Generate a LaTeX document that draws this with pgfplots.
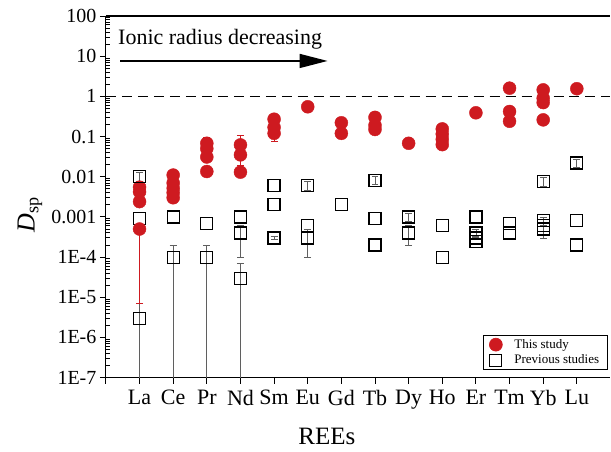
\documentclass[border=0pt]{standalone}
\usepackage{fontspec}
\setmainfont{Liberation Serif}
\usepackage{pgfplots}
\pgfplotsset{compat=1.18}
\usetikzlibrary{arrows.meta}
\definecolor{studyred}{RGB}{206,26,32}
\definecolor{errgray}{RGB}{95,95,95}

\begin{document}
\begin{tikzpicture}
\begin{axis}[
  name=ax,
  at={(0,0)}, anchor=south west,
  scale only axis, width=505pt, height=362pt,
  ymode=log, ymin=1e-7, ymax=100,
  xmin=0, xmax=15,
  axis x line*=bottom, axis y line*=left,
  axis line style={-, line width=1.1pt},
  xtick={0,...,14},
  xticklabels={,La,Ce,Pr,Nd,Sm,Eu,Gd,Tb,Dy,Ho,Er,Tm,Yb,Lu},
  ytick={1e-7,1e-6,1e-5,1e-4,1e-3,1e-2,1e-1,1,10,100},
  yticklabels={1E-7,1E-6,1E-5,1E-4,0.001,0.01,0.1,1,10,100},
  minor ytick={2e-7,3e-7,4e-7,5e-7,6e-7,7e-7,8e-7,9e-7,
    2e-6,3e-6,4e-6,5e-6,6e-6,7e-6,8e-6,9e-6,
    2e-5,3e-5,4e-5,5e-5,6e-5,7e-5,8e-5,9e-5,
    2e-4,3e-4,4e-4,5e-4,6e-4,7e-4,8e-4,9e-4,
    2e-3,3e-3,4e-3,5e-3,6e-3,7e-3,8e-3,9e-3,
    2e-2,3e-2,4e-2,5e-2,6e-2,7e-2,8e-2,9e-2,
    2e-1,3e-1,4e-1,5e-1,6e-1,7e-1,8e-1,9e-1,
    2,3,4,5,6,7,8,9,20,30,40,50,60,70,80,90},
  tick align=outside,
  major tick length=6pt, minor tick length=4pt,
  minor y tick style={xshift=4pt},
  tick style={black, line width=0.9pt},
  x tick label style={font=\fontsize{22}{22}\selectfont, yshift=-3pt},
  y tick label style={font=\fontsize{20}{20}\selectfont},
  xlabel={REEs},
  ylabel={\textit{D}\textsubscript{sp}},
  xlabel style={at={(rel axis cs:0.438,0)}, anchor=base, yshift=-67pt,
    font=\fontsize{25}{25}\selectfont},
  ylabel style={at={(rel axis cs:0,0.45)}, anchor=center, yshift=76pt,
    font=\fontsize{26}{26}\selectfont},
  legend style={at={(rel axis cs:0.994,0.022)}, anchor=south east,
    font=\fontsize{13}{14}\selectfont, draw=black, line width=0.6pt,
    row sep=1pt, inner xsep=6pt, inner ysep=2pt},
  legend cell align=left,
]

% this study
\addplot[only marks, mark=*, mark size=6.5pt, color=studyred,
  mark options={fill=studyred, draw=studyred}]
coordinates {
  (1,0.0055)(1,0.0042)(1,0.0024)
  (2,0.011)(2,0.007)(2,0.0052)(2,0.004)(2,0.003)
  (3,0.05)(3,0.031)(3,0.0135)
  (4,0.035)(4,0.013)
  (5,0.27)(5,0.17)
  (6,0.55)
  (7,0.22)(7,0.12)
  (8,0.3)(8,0.19)(8,0.15)
  (9,0.068)
  (10,0.155)(10,0.115)(10,0.085)(10,0.063)
  (11,0.39)
  (12,1.6)(12,0.42)(12,0.24)
  (13,1.45)(13,0.9)(13,0.7)(13,0.26)
  (14,1.55)
};
\addlegendentry{\hspace{10pt}This study}

% previous studies
\addplot[only marks, mark=square, mark size=6pt, color=black,
  mark options={line width=1.2pt}]
coordinates {
  (1,0.0009)
  (2,0.001)
  (3,0.0007)
  (4,0.001)
  (5,0.006)(5,0.002)
  (6,0.0006)
  (7,0.002)
  (8,0.0009)(8,0.0002)
  (10,0.0006)(10,0.0001)
  (11,0.001)(11,0.00025)
  (12,0.0007)(12,0.0004)
  (13,0.0006)
  (14,0.0008)(14,0.0002)
};
\addlegendentry{\hspace{10pt}Previous studies}

\addplot[only marks, mark=square, mark size=6pt, color=black,
  mark options={line width=1.2pt}, forget plot,
  error bars/.cd, y dir=both, y explicit,
  error bar style={line width=0.7pt, errgray},
  error mark options={rotate=90, mark size=3.5pt, line width=0.7pt, errgray}]
coordinates {
  (1,0.01) += (0,0.0025) -= (0,0.0022)
  (1,3e-6) += (0,4e-6) -= (0,2.99e-6)
  (2,1e-4) += (0,1e-4) -= (0,0.9999e-4)
  (3,1e-4) += (0,1e-4) -= (0,0.9999e-4)
  (4,0.0004) += (0,0.0002) -= (0,0.0003)
  (4,3e-5) += (0,4e-5) -= (0,2.999e-5)
  (5,0.0003) += (0,0.00003) -= (0,0.00003)
  (6,0.006) += (0,0.0015) -= (0,0.0013)
  (6,0.0003) += (0,0.0002) -= (0,0.0002)
  (8,0.008) += (0,0.002) -= (0,0.0017)
  (9,0.001) += (0,0.00025) -= (0,0.00022)
  (9,0.0004) += (0,0.0002) -= (0,0.0002)
  (11,0.0004) += (0,0.0001) -= (0,0.00009)
  (11,0.0003) += (0,0.00003) -= (0,0.00003)
  (13,0.0075) += (0,0.0019) -= (0,0.0016)
  (13,0.0008) += (0,0.0002) -= (0,0.00018)
  (13,0.0005) += (0,0.0001) -= (0,0.0002)
  (14,0.022) += (0,0.0055) -= (0,0.0048)
};

% this study, points with error bars
\addplot[only marks, mark=*, mark size=6.5pt, color=studyred,
  mark options={fill=studyred, draw=studyred}, forget plot,
  error bars/.cd, y dir=both, y explicit,
  error bar style={line width=0.7pt, studyred},
  error mark options={rotate=90, mark size=3.5pt, line width=0.7pt, studyred}]
coordinates {
  (1,0.0005) += (0,0) -= (0,0.000493)
  (3,0.068) += (0,0.025) -= (0,0.02)
  (4,0.062) += (0,0.043) -= (0,0.043)
  (5,0.12) += (0,0.045) -= (0,0.045)
};

% D = 1 reference line
\addplot[black, line width=1.5pt, dash pattern=on 10pt off 6pt, forget plot]
coordinates {(0,1) (15,1)};

% ionic radius annotation
\node[anchor=base west, font=\fontsize{22}{22}\selectfont, inner sep=0pt]
  at (rel axis cs:0.024,0.92) {Ionic radius decreasing};
\draw[line width=1.5pt, -{Triangle[length=28pt,width=14pt]}]
  (axis cs:0.42,7.6) -- (axis cs:6.59,7.6);
\end{axis}
\draw[line width=1.1pt] (ax.north west) -- (ax.north east);
\path[use as bounding box] (-106pt,-74pt) rectangle (505pt,378pt);
\end{tikzpicture}
\end{document}
